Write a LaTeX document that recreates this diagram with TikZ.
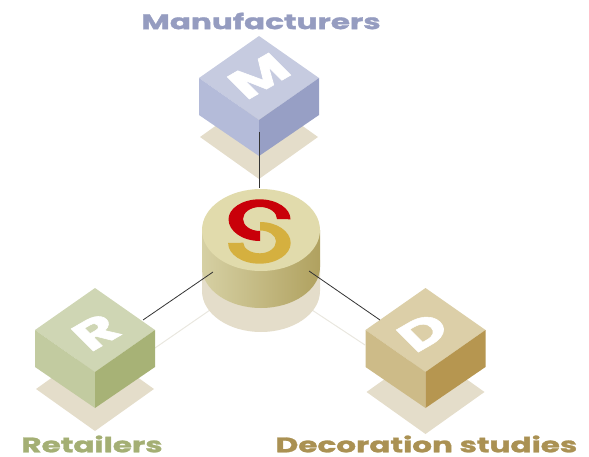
\documentclass[tikz,border=0pt]{standalone}
\usepackage{fontspec}
\usepackage{tikz}
\usetikzlibrary{backgrounds}
\newfontfamily\signfont{Poppins}[BoldFeatures={FakeBold=1.2}]
\definecolor{mtop}{HTML}{C6CBE0}
\definecolor{mleft}{HTML}{B4BBD9}
\definecolor{mright}{HTML}{979FC5}
\definecolor{rtop}{HTML}{CFD6B4}
\definecolor{rleft}{HTML}{C2CBA0}
\definecolor{rright}{HTML}{A7B276}
\definecolor{dtop}{HTML}{DCCFA8}
\definecolor{dleft}{HTML}{CDBB88}
\definecolor{dright}{HTML}{B69650}
\definecolor{floorcol}{HTML}{E4DDCA}
\definecolor{paleline}{HTML}{E9E7DF}
\definecolor{storetop}{HTML}{E1DBAC}
\definecolor{sred}{HTML}{C90009}
\definecolor{sgold}{HTML}{D5B03F}
\definecolor{mlabel}{HTML}{959CC0}
\definecolor{rlabel}{HTML}{A4AF74}
\definecolor{dlabel}{HTML}{AA9153}
\tikzset{
  letter node/.style={inner sep=0pt,text=white,font=\signfont\bfseries\fontsize{40}{40}\selectfont,
    transform shape,cm={1.3,.75,-.79,.79,(0,0)}},
  title node/.style={inner sep=0pt,font=\signfont\bfseries\fontsize{21}{21}\selectfont,
    transform shape,xscale=1.48},
  link/.style={black!80,line width=.8pt},
  pale link/.style={paleline,line width=1pt}
}
\begin{document}
\begin{tikzpicture}[x=1pt,y=1pt,node distance=100pt]
	\useasboundingbox (0,0) rectangle (589,456);

	\node (S) at (261,226) {};
	\node[letter node] (M) at (259,380) {M};
	\node[letter node] (R) at (96,124) {R};
	\node[letter node] (D) at (423,124) {D};
	\node[title node,text=mlabel] (mname) at (261,435) {Manufacturers};
	\node[title node,text=rlabel] (rname) at (92,12) {Retailers};
	\node[title node,text=dlabel] (dname) at (426.5,12) {Decoration studies};

	% ends of the connectors
	\coordinate (mfoot) at (259,324);
	\coordinate (stop) at (259,268);
	\coordinate (rtip) at (143,136);
	\coordinate (sleft) at (213,184);
	\coordinate (dtip) at (380,136);
	\coordinate (sright) at (309,185);
	\coordinate (rpale) at (155,108);
	\coordinate (spaleleft) at (210,146);
	\coordinate (dpale) at (365,111);
	\coordinate (spaleright) at (312,146);

	\begin{pgfonlayer}{background}
	\path[pale link]
	(rpale) edge (spaleleft)
	(dpale) edge (spaleright);
	\foreach \cx/\cy/\ctop/\cleft/\cright/\cfloor in {259/378/mtop/mleft/mright/-59,95/126/rtop/rleft/rright/-59,425.5/126/dtop/dleft/dright/-62}
	{
		\begin{scope}[shift={(\cx,\cy)}]
		\fill[floorcol] (-59,\cfloor) -- (0,\cfloor+42) -- (59,\cfloor) -- (0,\cfloor-42) -- cycle;
		\fill[\ctop] (-60,0) -- (0,42) -- (60,0) -- (0,-42) -- cycle;
		\fill[\cleft] (-60,0) -- (0,-42) -- (0,-78) -- (-60,-37) -- cycle;
		\fill[\cright] (60,0) -- (0,-42) -- (0,-78) -- (60,-37) -- cycle;
		\end{scope}
	}
	\begin{scope}[shift={(S)}]
		\fill[floorcol] (-59,-61) arc (180:360:59pt and 41pt) -- (59,-30) -- (-59,-30) -- cycle;
		\shade[left color=storetop!95!black,middle color=storetop!90!black,right color=rright!40!dright]
		(-59,0) -- (-59,-37) arc (180:360:59pt and 41pt) -- (59,0) -- cycle;
		\fill[storetop] (0,0) ellipse (59pt and 41pt);
		\fill[sgold] (-1,8) arc (90:0:30.7pt and 21pt) arc (0:-180:31.3pt and 20.7pt)
		-- (-17.7,-12.7) arc (180:270:16.7pt and 10.6pt) arc (270:360:16pt and 12pt) arc (0:90:16pt and 10.8pt) -- cycle;
		\fill[sred] (29.5,10.7) arc (0:180:31pt and 20pt) arc (180:270:31.5pt and 21.7pt)
		-- (-1,-1) arc (270:180:17pt and 12pt) arc (180:0:17pt and 12pt) -- cycle;
	\end{scope}
	\end{pgfonlayer}

	\path[link]
	(mfoot) edge (stop)
	(rtip) edge (sleft)
	(dtip) edge (sright);
\end{tikzpicture}
\end{document}
